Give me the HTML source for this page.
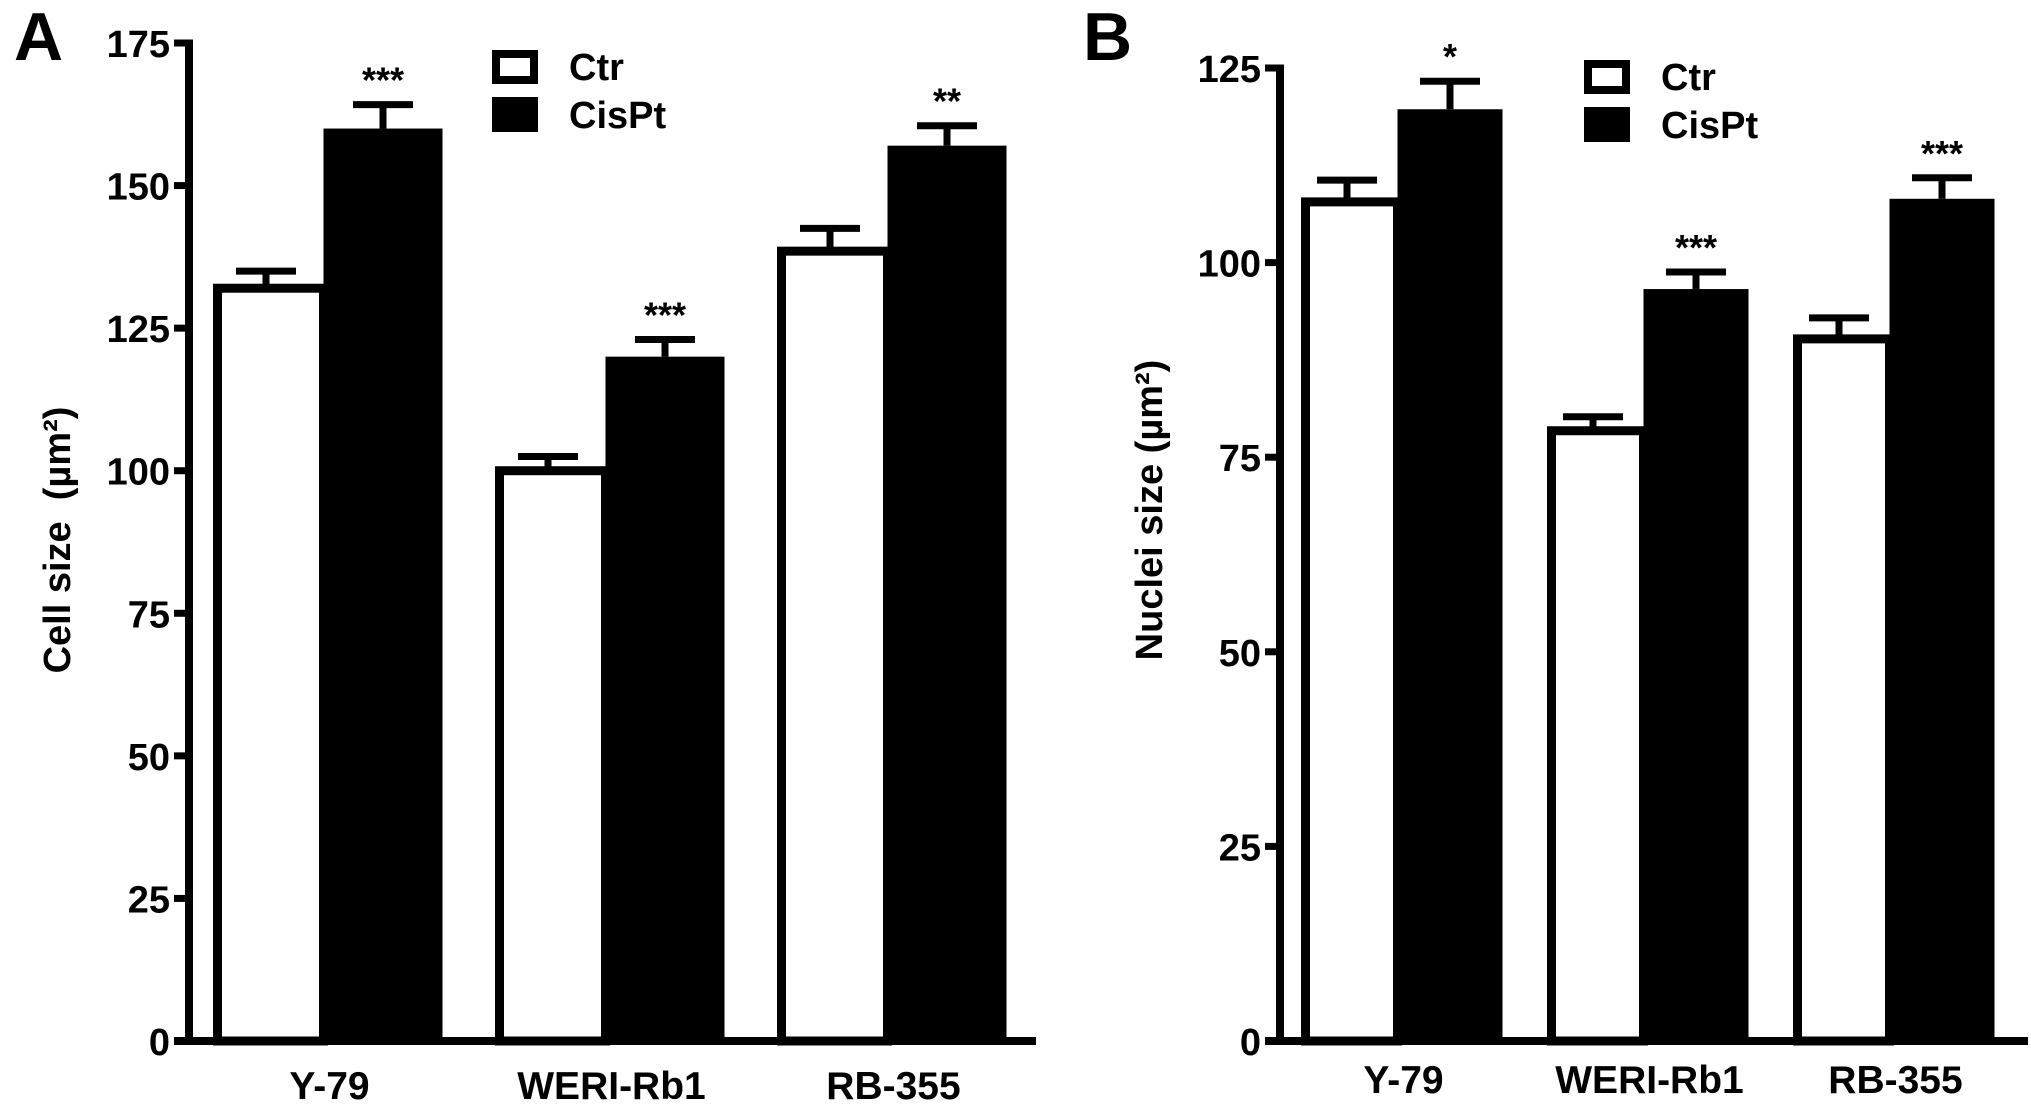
<!DOCTYPE html>
<html><head><meta charset="utf-8"><style>
html,body{margin:0;padding:0;background:#fff;}
svg{display:block;font-family:"Liberation Sans",Arial,sans-serif;font-weight:bold;}
</style></head><body>
<svg id="chart" width="2031" height="1106" viewBox="0 0 2031 1106"></svg>
<script>
const categories = ["Y-79", "WERI-Rb1", "RB-355"];
const seriesNames = ["Ctr", "CisPt"];
const cellCtr = [132, 100, 138.5];
const cellCtrErr = [3, 2.5, 4];
const cellCis = [160, 120, 157];
const cellCisErr = [4.2, 3, 3.5];
const cellStars = ["***", "***", "**"];
const cellTicks = [0, 25, 50, 75, 100, 125, 150, 175];
const nucCtr = [107.8, 78.4, 90.2];
const nucCtrErr = [2.8, 1.8, 2.7];
const nucCis = [119.7, 96.6, 108.2];
const nucCisErr = [3.6, 2.2, 2.7];
const nucStars = ["*", "***", "***"];
const nucTicks = [0, 25, 50, 75, 100, 125];

const NS = "http://www.w3.org/2000/svg";
const svg = document.getElementById('chart');
function mk(tag, attrs, parent) {
  const e = document.createElementNS(NS, tag);
  for (const k in attrs) e.setAttribute(k, attrs[k]);
  (parent || svg).appendChild(e);
  return e;
}

function panel(cfg) {
  const g = mk('g', {});
  
  
  const y = v => cfg.y0 - (v - cfg.min) / (cfg.max - cfg.min) * (cfg.y0 - cfg.yTop);
  const groupX = i => cfg.gx0 + i * cfg.gstep;

  const L = mk('text', {x: cfg.letterX, y: cfg.letterY, 'font-size': 68}, g);
  L.textContent = cfg.letter;
  
  

  cfg.ticks.forEach(t => {
    const ty = y(t);
    const tk = mk('line', {x1: cfg.axisX - 15, x2: cfg.axisX, y1: ty, y2: ty, stroke: '#000', 'stroke-width': 7}, g);
    
    
    const tl = mk('text', {x: cfg.axisX - 19, y: ty + 14, 'font-size': 38, 'text-anchor': 'end'}, g);
    tl.textContent = t;
    
    
  });

  const series = [[cfg.ctr, cfg.ctrErr], [cfg.cis, cfg.cisErr]];
  categories.forEach((c, i) => {
    const gx = groupX(i);
    const v0 = series[0][0][i], e0 = series[0][1][i];
    const x0 = gx, w0 = cfg.w0;
    const xc0 = x0 + w0 / 2;
    const eb0 = mk('line', {x1: xc0, x2: xc0, y1: y(v0), y2: y(v0 + e0), stroke: '#000', 'stroke-width': 7}, g);
    
    
    const cp0 = mk('line', {x1: xc0 - 30, x2: xc0 + 30, y1: y(v0 + e0), y2: y(v0 + e0), stroke: '#000', 'stroke-width': 7}, g);
    
    
    const b0 = mk('rect', {x: x0 + 4.5, y: y(v0), width: w0, height: cfg.y0 - y(v0), fill: '#fff', stroke: '#000', 'stroke-width': 9}, g);
    
    
    const v1 = series[1][0][i], e1 = series[1][1][i];
    const x1 = gx + w0 + 4.5, w1 = cfg.w1;
    const xc1 = x1 + w1 / 2;
    const eb1 = mk('line', {x1: xc1, x2: xc1, y1: y(v1), y2: y(v1 + e1), stroke: '#000', 'stroke-width': 7}, g);
    
    
    const cp1 = mk('line', {x1: xc1 - 30, x2: xc1 + 30, y1: y(v1 + e1), y2: y(v1 + e1), stroke: '#000', 'stroke-width': 7}, g);
    
    
    const b1 = mk('rect', {x: x1, y: y(v1), width: w1, height: cfg.y0 - y(v1), fill: '#000'}, g);
    
    
    const st = mk('text', {x: xc1, y: y(v1 + e1) - 12, 'font-size': 36, 'text-anchor': 'middle'}, g);
    st.textContent = cfg.stars[i];
    
    
    const cl = mk('text', {x: gx + (w0 + w1) / 2 + 4, y: cfg.catY, 'font-size': 39, 'text-anchor': 'middle'}, g);
    cl.textContent = c;
    
    
  });

  const ya = mk('line', {x1: cfg.axisX, x2: cfg.axisX, y1: cfg.yTop - 3.5, y2: cfg.y0 + 4, stroke: '#000', 'stroke-width': 8}, g);
  
  
  const xa = mk('line', {x1: cfg.axisX - 15, x2: cfg.xEnd, y1: cfg.y0, y2: cfg.y0, stroke: '#000', 'stroke-width': 8}, g);
  
  

  const yt = mk('text', {x: 0, y: 0, 'font-size': 38, 'text-anchor': 'middle', transform: 'translate(' + cfg.titleX + ',' + cfg.titleY + ') rotate(-90)'}, g);
  yt.textContent = cfg.title;
  yt.style.whiteSpace = 'pre';
  
  

  const lg = mk('g', {}, g);
  
  
  const r0 = mk('rect', {x: cfg.legX + 4, y: cfg.legY + 4, width: 38, height: 26, fill: '#fff', stroke: '#000', 'stroke-width': 8}, lg);
  
  
  const t0 = mk('text', {x: cfg.legX + 77, y: cfg.legY + 30, 'font-size': 38}, lg);
  t0.textContent = seriesNames[0];
  
  
  const r1 = mk('rect', {x: cfg.legX, y: cfg.legY + 47, width: 46, height: 35, fill: '#000'}, lg);
  
  
  const t1 = mk('text', {x: cfg.legX + 77, y: cfg.legY + 78, 'font-size': 38}, lg);
  t1.textContent = seriesNames[1];
  
  
}

panel({name: 'panel-a-cell-size', letter: 'A', letterX: 14, letterY: 60,
  ctr: cellCtr, ctrErr: cellCtrErr, cis: cellCis, cisErr: cellCisErr, stars: cellStars, ticks: cellTicks,
  min: 0, max: 175, y0: 1041, yTop: 43, axisX: 189, xEnd: 1036,
  gx0: 213, gstep: 282, w0: 106, w1: 119, catY: 1099,
  title: 'Cell size  (µm²)', titleX: 70, titleY: 540, legX: 492, legY: 50});

panel({name: 'panel-b-nuclei-size', letter: 'B', letterX: 1083, letterY: 60,
  ctr: nucCtr, ctrErr: nucCtrErr, cis: nucCis, cisErr: nucCisErr, stars: nucStars, ticks: nucTicks,
  min: 0, max: 125, y0: 1041, yTop: 68, axisX: 1280, xEnd: 2028,
  gx0: 1301, gstep: 246, w0: 92, w1: 105, catY: 1093,
  title: 'Nuclei size (µm²)', titleX: 1162, titleY: 510, legX: 1584, legY: 60});
</script>
</body></html>
